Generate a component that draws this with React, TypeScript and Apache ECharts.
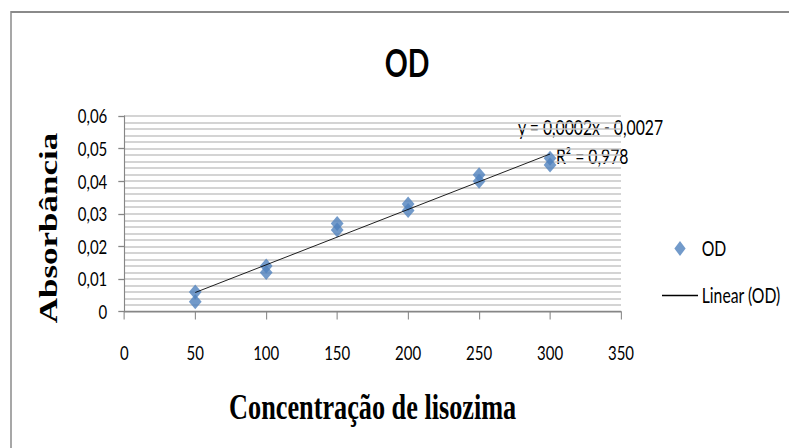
import { useEffect, useRef } from "react";
import * as echarts from "echarts";

// Calibration points: lysozyme concentration vs absorbance (duplicate readings)
const concentrations = [50, 50, 100, 100, 150, 150, 200, 200, 250, 250, 300, 300];
const absorbances = [0.006, 0.003, 0.014, 0.012, 0.027, 0.025, 0.033, 0.031, 0.042, 0.04, 0.047, 0.045];

const xTicks = { min: 0, max: 350, interval: 50 };
const yTicks = { min: 0, max: 0.06, interval: 0.01 };

const seriesName = "OD";
const trendName = "Linear (OD)";
const xTitle = "Concentração de lisozima";
const yTitle = "Absorbância";

// The drawing is laid out on a wider canvas and squeezed horizontally,
// which gives the narrow lettering of the original workbook chart.
const SQUEEZE = 0.75;
const CANVAS_W = Math.round(789 / SQUEEZE);
const CANVAS_H = 448;
const sx = (x: number) => x / SQUEEZE;

function linearFit(xs: number[], ys: number[]) {
  const n = xs.length;
  const mx = xs.reduce((a, b) => a + b, 0) / n;
  const my = ys.reduce((a, b) => a + b, 0) / n;
  let sxy = 0;
  let sxx = 0;
  let syy = 0;
  for (let i = 0; i < n; i++) {
    sxy += (xs[i] - mx) * (ys[i] - my);
    sxx += (xs[i] - mx) ** 2;
    syy += (ys[i] - my) ** 2;
  }
  const slope = sxy / sxx;
  const intercept = my - slope * mx;
  const r2 = (sxy * sxy) / (sxx * syy);
  return { slope, intercept, r2 };
}

const comma = (s: string) => s.replace(".", ",");

// legend glyphs: a diamond and a thin rule, kept at their own aspect
const diamondIcon = "path://M7,0 L14,7 L7,14 L0,7 Z";
const ruleIcon = "path://M0,0 L48,0 L48,1.3 L0,1.3 Z";

export default function App() {
  const ref = useRef<HTMLDivElement>(null);

  useEffect(() => {
    if (!ref.current) return;
    const chart = echarts.init(ref.current, null, { renderer: "svg" });

    const points = concentrations.map((x, i) => [x, absorbances[i]]);
    const fit = linearFit(concentrations, absorbances);
    const x0 = Math.min(...concentrations);
    const x1 = Math.max(...concentrations);
    const trend = [
      [x0, fit.intercept + fit.slope * x0],
      [x1, fit.intercept + fit.slope * x1],
    ];
    const sign = fit.intercept < 0 ? "-" : "+";
    const equation = `y = ${comma(fit.slope.toFixed(4))}x ${sign} ${comma(Math.abs(fit.intercept).toFixed(4))}`;
    const r2Text = `R² = ${comma(fit.r2.toFixed(3))}`;

    const axisGray = "#868686";
    const gridGray = "#c6c6c6";
    const sans = "Lato, 'Noto Sans', sans-serif";
    const serif = "'Liberation Serif', 'DejaVu Serif', serif";

    chart.setOption({
      animation: false,
      backgroundColor: "#ffffff",
      grid: {
        left: sx(124.3),
        right: CANVAS_W - sx(621),
        top: 116,
        bottom: CANVAS_H - 311.5,
        containLabel: false,
      },
      xAxis: {
        type: "value",
        min: xTicks.min,
        max: xTicks.max,
        interval: xTicks.interval,
        name: xTitle,
        nameLocation: "middle",
        nameGap: 78,
        nameTextStyle: { fontFamily: serif, fontWeight: "bold", fontSize: 35, color: "#000" },
        axisLine: { show: true, lineStyle: { color: axisGray, width: 1.3 } },
        axisTick: { show: true, length: 8, lineStyle: { color: axisGray, width: 1.4 } },
        axisLabel: { margin: 31, fontFamily: sans, fontSize: 20, color: "#000" },
        splitLine: { show: false },
      },
      yAxis: {
        type: "value",
        min: yTicks.min,
        max: yTicks.max,
        interval: yTicks.interval,
        axisLine: { show: true, lineStyle: { color: axisGray, width: 1.5 } },
        axisTick: { show: true, length: sx(6), lineStyle: { color: axisGray, width: 1.3 } },
        axisLabel: {
          margin: sx(17),
          fontFamily: sans,
          fontSize: 20,
          color: "#000",
          formatter: (v: number) => (v === 0 ? "0" : comma(v.toFixed(2))),
        },
        splitLine: { show: true, lineStyle: { color: gridGray, width: 1.5 } },
        minorTick: { show: false, splitNumber: 5 },
        minorSplitLine: { show: true, lineStyle: { color: gridGray, width: 1.5 } },
      },
      legend: {
        orient: "vertical",
        left: sx(662),
        top: 238,
        padding: 0,
        itemWidth: sx(36),
        itemHeight: 15,
        itemGap: 26,
        symbolKeepAspect: true,
        textStyle: { fontFamily: sans, fontSize: 21, color: "#000" },
        data: [
          { name: seriesName, icon: diamondIcon },
          { name: trendName, icon: ruleIcon },
        ],
      },
      series: [
        {
          name: seriesName,
          type: "scatter",
          data: points,
          symbol: "diamond",
          symbolSize: [17, 15],
          itemStyle: { color: "#4F81BD" },
          z: 3,
        },
        {
          name: trendName,
          type: "line",
          data: trend,
          symbol: "none",
          lineStyle: { color: "#000", width: 1 },
          itemStyle: { color: "#000" },
          z: 4,
        },
      ],
      graphic: [
        {
          type: "rect",
          silent: true,
          shape: { x: sx(11), y: 12, width: CANVAS_W, height: 600 },
          style: { fill: "none", stroke: "#8a8a8a", lineWidth: 2 },
        },
        {
          type: "text",
          x: sx(407),
          y: 62,
          style: {
            text: "OD",
            align: "center",
            verticalAlign: "middle",
            textAlign: "center",
            textVerticalAlign: "middle",
            fontFamily: sans,
            fontWeight: "bold",
            fontSize: 38,
            fill: "#000",
          },
        },
        {
          type: "text",
          x: sx(48),
          y: 228,
          rotation: Math.PI / 2,
          style: {
            text: yTitle,
            align: "center",
            verticalAlign: "middle",
            textAlign: "center",
            textVerticalAlign: "middle",
            fontFamily: serif,
            fontWeight: "bold",
            fontSize: 35,
            fill: "#000",
          },
        },
        {
          type: "text",
          x: sx(518),
          y: 127,
          style: {
            text: equation,
            align: "left",
            verticalAlign: "middle",
            textAlign: "left",
            textVerticalAlign: "middle",
            fontFamily: sans,
            fontSize: 21,
            fill: "#000",
          },
        },
        {
          type: "text",
          x: sx(556),
          y: 156,
          style: {
            text: r2Text,
            align: "left",
            verticalAlign: "middle",
            textAlign: "left",
            textVerticalAlign: "middle",
            fontFamily: sans,
            fontSize: 21,
            fill: "#000",
          },
        },
      ],
    });

    return () => chart.dispose();
  }, []);

  return (
    <div
      style={{
        position: "fixed",
        left: 0,
        top: 0,
        width: 789,
        height: 448,
        overflow: "hidden",
        background: "#fff",
      }}
    >
      <div
        ref={ref}
        style={{
          width: CANVAS_W,
          height: CANVAS_H,
          transform: `scaleX(${SQUEEZE})`,
          transformOrigin: "0 0",
        }}
      />
    </div>
  );
}
